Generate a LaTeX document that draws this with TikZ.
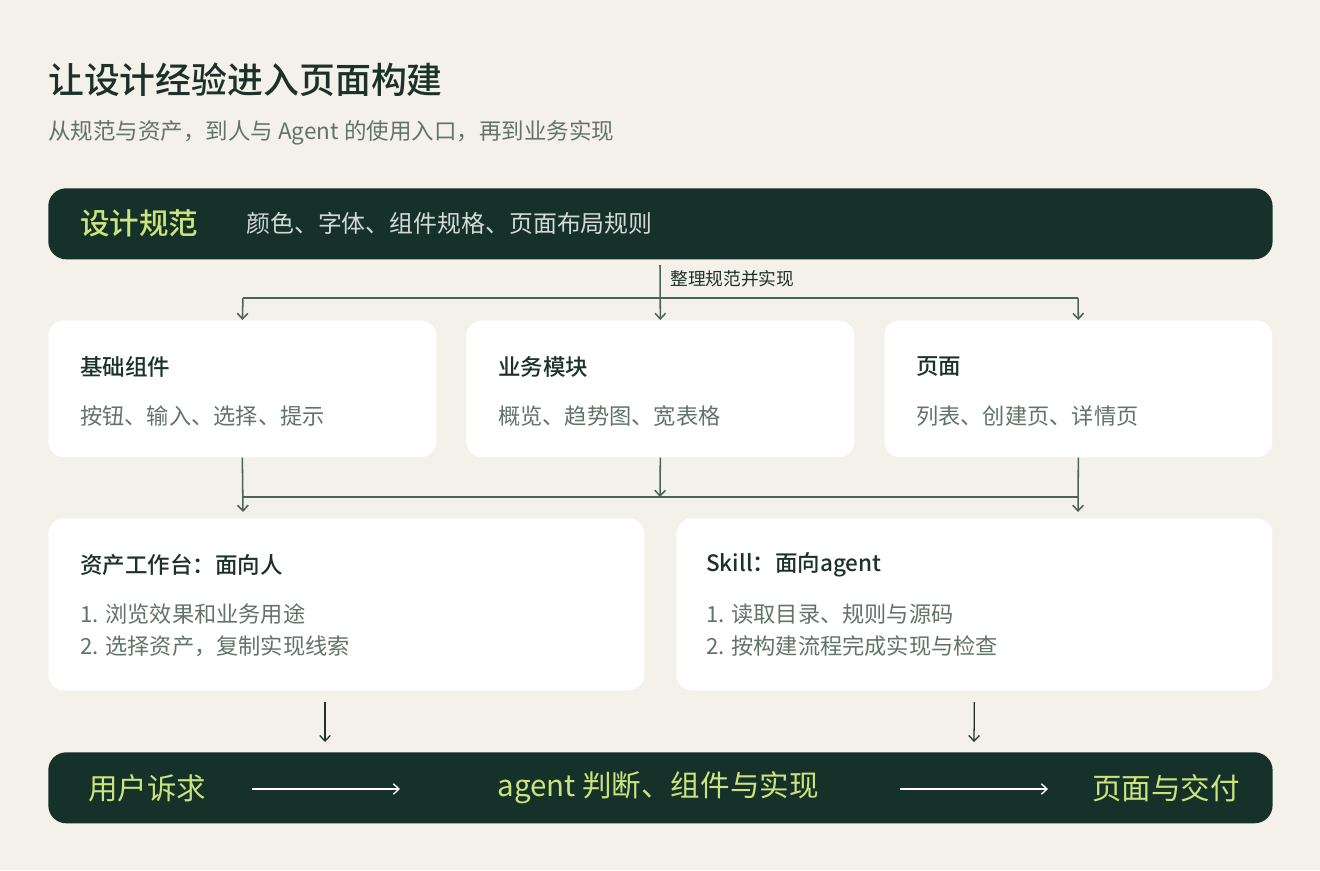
\documentclass[tikz,border=0pt]{standalone}
\usepackage{fontspec}
\setmainfont{Noto Sans CJK SC}[BoldFont={* Medium}]
\usetikzlibrary{arrows.meta}

\definecolor{bgcream}{HTML}{F4F1EA}
\definecolor{deepgreen}{HTML}{16302A}
\definecolor{limegreen}{HTML}{C9E57C}
\definecolor{inkgreen}{HTML}{1B3129}
\definecolor{mutedgrey}{HTML}{62736A}
\definecolor{linkgreen}{HTML}{4B6359}
\definecolor{palegrey}{HTML}{D3DBD5}

\tikzset{
  bar/.style={fill=deepgreen, rounded corners=0.45cm, anchor=north west, inner sep=0,
    minimum width=30.6cm, minimum height=1.775cm},
  card/.style={fill=white, rounded corners=0.4cm, anchor=north west, inner sep=0},
  smallcard/.style={card, minimum width=9.7cm, minimum height=3.425cm},
  widecard/.style={card, minimum width=14.9cm, minimum height=4.3cm},
  cardhead/.style={anchor=west, inner sep=0, text=inkgreen, font=\bfseries\fontsize{16}{19}\selectfont},
  cardtext/.style={anchor=west, inner sep=0, text=mutedgrey, font=\fontsize{15.8}{19}\selectfont},
  barhead/.style={inner sep=0, text=limegreen, font=\fontsize{21}{25}\selectfont},
  link/.style={draw=linkgreen, line width=1.1pt, -{Straight Barb[length=4pt,width=7.5pt]}},
  flow/.style={draw=white, line width=1pt, -{Straight Barb[length=4pt,width=7.5pt]}}
}

\begin{document}
\begin{tikzpicture}[x=0.025cm, y=-0.025cm]
\fill[bgcream] (0,0) rectangle (1320,870);
\useasboundingbox (0,0) rectangle (1320,870);

\node[anchor=west, inner sep=0, text=inkgreen, font=\bfseries\fontsize{25.5}{30}\selectfont] (title) at (48,80) {让设计经验进入页面构建};
\node[anchor=west, inner sep=0, text=mutedgrey, font=\fontsize{16}{19}\selectfont] (subtitle) at (48,133) {从规范与资产，到人与 Agent 的使用入口，再到业务实现};

\node[bar] (spec) at (48,188) {};
\node[barhead, anchor=west, font=\bfseries\fontsize{21}{25}\selectfont] (spechead) at (80,223) {设计规范};
\node[anchor=west, inner sep=0, text=palegrey, font=\fontsize{17}{20}\selectfont] (spectext) at (246,223) {颜色、字体、组件规格、页面布局规则};

\node[smallcard] (base) at (48,320) {};
\node[smallcard] (module) at (466,320) {};
\node[smallcard] (page) at (884,320) {};
\node[cardhead] (basehead) at (80,367) {基础组件};
\node[cardtext] (basetext) at (80,416) {按钮、输入、选择、提示};
\node[cardhead] (modulehead) at (498,367) {业务模块};
\node[cardtext] (moduletext) at (498,416) {概览、趋势图、宽表格};
\node[cardhead] (pagehead) at (916,367) {页面};
\node[cardtext] (pagetext) at (916,416) {列表、创建页、详情页};

\coordinate (specout) at (660,265);
\coordinate (splitL) at (243,298);
\coordinate (splitR) at (1078,298);
\draw[link] (specout) -- (module.north);
\draw[link] (splitL) -- (base.north);
\draw[link] (splitR) -- (page.north);
\draw[draw=linkgreen, line width=1.1pt] (splitL) -- (splitR);
\node[anchor=west, inner sep=0, text=inkgreen, font=\fontsize{12.6}{15}\selectfont] (specnote) at (670,279) {整理规范并实现};

\node[widecard] (studio) at (48,518) {};
\node[widecard] (skill) at (676,518) {};
\node[cardhead] (studiohead) at (80,565) {资产工作台：面向人};
\node[cardtext] (studioone) at (80,614) {1. 浏览效果和业务用途};
\node[cardtext] (studiotwo) at (80,646) {2. 选择资产，复制实现线索};
\node[cardhead] (skillhead) at (706,565) {Skill：面向agent};
\node[cardtext] (skillone) at (706,614) {1. 读取目录、规则与源码};
\node[cardtext] (skilltwo) at (706,646) {2. 按构建流程完成实现与检查};

\coordinate (mergeL) at (243,497);
\coordinate (mergeM) at (660,497);
\coordinate (mergeR) at (1078,497);
\coordinate (landL) at (243,512);
\coordinate (landR) at (1078,512);
\draw[link] (base.south) -- (landL);
\draw[link] (module.south) -- (mergeM);
\draw[link] (page.south) -- (landR);
\draw[draw=linkgreen, line width=1.1pt] (mergeL) -- (mergeR);

\node[bar] (delivery) at (48,752) {};
\node[barhead, anchor=west] (need) at (88,788) {用户诉求};
\node[barhead] (judge) at (658,788) {agent 判断、组件与实现};
\node[barhead, anchor=east] (result) at (1240,788) {页面与交付};
\coordinate (flowA) at (252,789);
\coordinate (flowB) at (400,789);
\coordinate (flowC) at (900,789);
\coordinate (flowD) at (1048,789);
\draw[flow] (flowA) -- (flowB);
\draw[flow] (flowC) -- (flowD);

\coordinate (studioout) at (325,702);
\coordinate (studioin) at (325,742);
\coordinate (skillin) at (974,742);
\draw[link, draw=inkgreen, line width=0.9pt] (studioout) -- (studioin);
\draw[link, draw=inkgreen, line width=0.9pt] (skill.south |- studioout) -- (skillin);
\end{tikzpicture}
\end{document}
